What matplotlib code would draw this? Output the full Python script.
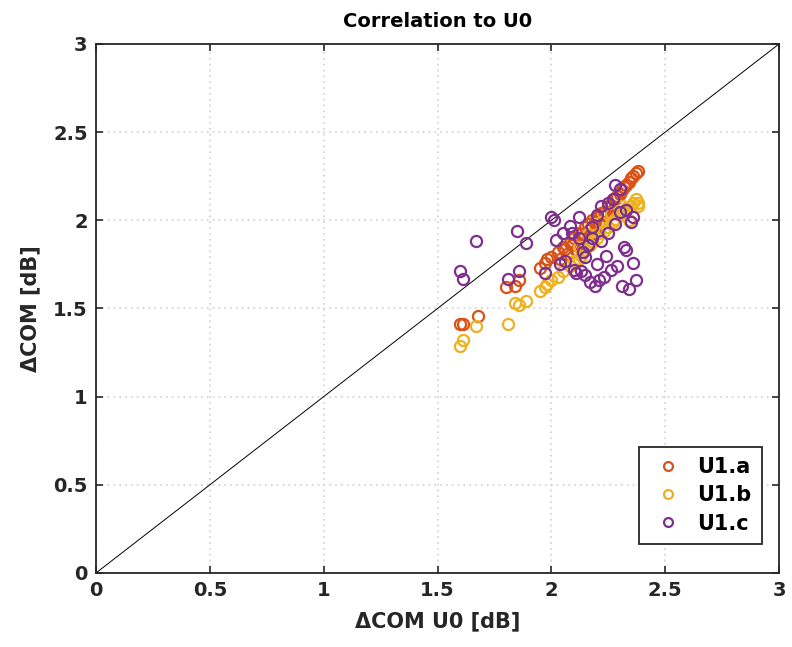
import matplotlib.pyplot as plt
import numpy as np

# U1.a
ua_x = [1.60, 1.61, 1.68, 1.80, 1.84, 1.86, 1.95, 1.97, 1.98, 2.00,
        2.03, 2.05, 2.06, 2.08, 2.10, 2.12, 2.13, 2.15, 2.16, 2.18,
        2.19, 2.20, 2.22, 2.23, 2.25, 2.26, 2.28, 2.29, 2.30, 2.31,
        2.32, 2.33, 2.34, 2.35, 2.36, 2.37, 2.38,
        2.04, 2.09, 2.14, 2.17, 2.21, 2.24, 2.27, 2.07, 2.11, 2.19, 2.23]
ua_y = [1.41, 1.41, 1.46, 1.62, 1.63, 1.66, 1.73, 1.76, 1.78, 1.79,
        1.82, 1.85, 1.84, 1.87, 1.90, 1.93, 1.92, 1.96, 1.98, 2.00,
        1.99, 2.02, 2.04, 2.05, 2.08, 2.08, 2.12, 2.14, 2.15, 2.17,
        2.19, 2.20, 2.22, 2.24, 2.25, 2.27, 2.28,
        1.78, 1.86, 1.90, 1.95, 1.98, 2.03, 2.06, 1.81, 1.83, 1.93, 1.99]

# U1.b
ub_x = [1.60, 1.61, 1.67, 1.81, 1.84, 1.86, 1.89, 1.95, 1.97, 1.98,
        2.00, 2.03, 2.05, 2.08, 2.10, 2.12, 2.13, 2.15, 2.17, 2.18,
        2.20, 2.21, 2.23, 2.25, 2.27, 2.28, 2.30, 2.32, 2.33, 2.35,
        2.36, 2.37, 2.38, 2.38, 2.12, 2.16, 2.22, 2.26, 2.31, 2.34]
ub_y = [1.29, 1.32, 1.40, 1.41, 1.53, 1.52, 1.54, 1.60, 1.62, 1.64,
        1.66, 1.68, 1.71, 1.74, 1.77, 1.78, 1.80, 1.83, 1.86, 1.88,
        1.90, 1.93, 1.94, 1.96, 1.99, 2.01, 2.03, 2.05, 2.07, 2.08,
        2.10, 2.12, 2.08, 2.10, 1.85, 1.92, 1.99, 2.04, 2.08, 2.00]

# U1.c
uc_x = [1.60, 1.61, 1.67, 1.81, 1.85, 1.86, 1.89, 1.97, 2.00, 2.01,
        2.02, 2.05, 2.06, 2.08, 2.10, 2.11, 2.12, 2.13, 2.15, 2.16,
        2.17, 2.18, 2.19, 2.20, 2.21, 2.22, 2.23, 2.24, 2.25, 2.26,
        2.27, 2.28, 2.29, 2.30, 2.31, 2.32, 2.33, 2.34, 2.35, 2.36,
        2.37, 2.36, 2.12, 2.14, 2.18, 2.22, 2.28, 2.30, 2.09, 2.20,
        2.25, 2.33, 2.04, 2.15]
uc_y = [1.71, 1.67, 1.88, 1.67, 1.94, 1.71, 1.87, 1.70, 2.02, 2.00,
        1.89, 1.93, 1.77, 1.97, 1.72, 1.70, 2.02, 1.71, 1.69, 1.86,
        1.65, 1.96, 1.63, 2.03, 1.66, 2.08, 1.68, 1.80, 2.10, 1.72,
        2.12, 2.20, 1.74, 2.18, 1.63, 1.85, 1.83, 1.61, 1.99, 1.76,
        1.66, 2.02, 1.90, 1.82, 1.90, 1.88, 1.98, 2.05, 1.93, 1.75,
        1.93, 2.06, 1.75, 1.79]

ticks = [0, 0.5, 1, 1.5, 2, 2.5, 3]
tick_labels = ["0", "0.5", "1", "1.5", "2", "2.5", "3"]

fig = plt.figure(figsize=(7.92, 6.47), dpi=100)
ax = fig.add_axes([0.1212, 0.1144, 0.8624, 0.8176])

ax.plot([0, 3], [0, 3], color="black", lw=0.7)
mk = dict(marker="o", ls="none", mfc="none", mew=1.6, ms=8)
ax.plot(ua_x, ua_y, mec="#D95319", label="U1.a", **mk)
ax.plot(ub_x, ub_y, mec="#EDB120", label="U1.b", **mk)
ax.plot(uc_x, uc_y, mec="#7E2F8E", label="U1.c", **mk)

ax.set_xlim(0, 3)
ax.set_ylim(0, 3)
ax.set_xticks(ticks)
ax.set_xticklabels(tick_labels)
ax.set_yticks(ticks)
ax.set_yticklabels(tick_labels)
ax.tick_params(direction="in", top=True, right=True, length=5, width=1.2,
               labelsize=14, colors="#262626", pad=6)
for lab in ax.get_xticklabels() + ax.get_yticklabels():
    lab.set_fontweight("bold")
for s in ax.spines.values():
    s.set_linewidth(1.3)
    s.set_color("#262626")
ax.grid(True, linestyle=(0, (1, 2.5)), color="#d0d0d0", lw=1.2)
ax.set_axisbelow(True)

ax.set_title("Correlation to U0", fontsize=14, fontweight="bold", pad=12)
ax.set_xlabel("ΔCOM U0 [dB]", fontsize=15, fontweight="bold", color="#262626", labelpad=8)
ax.set_ylabel("ΔCOM [dB]", fontsize=15, fontweight="bold", color="#262626", labelpad=9)

leg = ax.legend(loc="lower right", fontsize=15, fancybox=False, framealpha=1,
                edgecolor="#262626", handletextpad=0.5, borderpad=0.5,
                labelspacing=0.4, handlelength=1.8, markerscale=0.8,
                bbox_to_anchor=(0.99, 0.035))
leg.get_frame().set_linewidth(1.3)
for t in leg.get_texts():
    t.set_fontweight("bold")

fig.savefig("out.png", dpi=100)
